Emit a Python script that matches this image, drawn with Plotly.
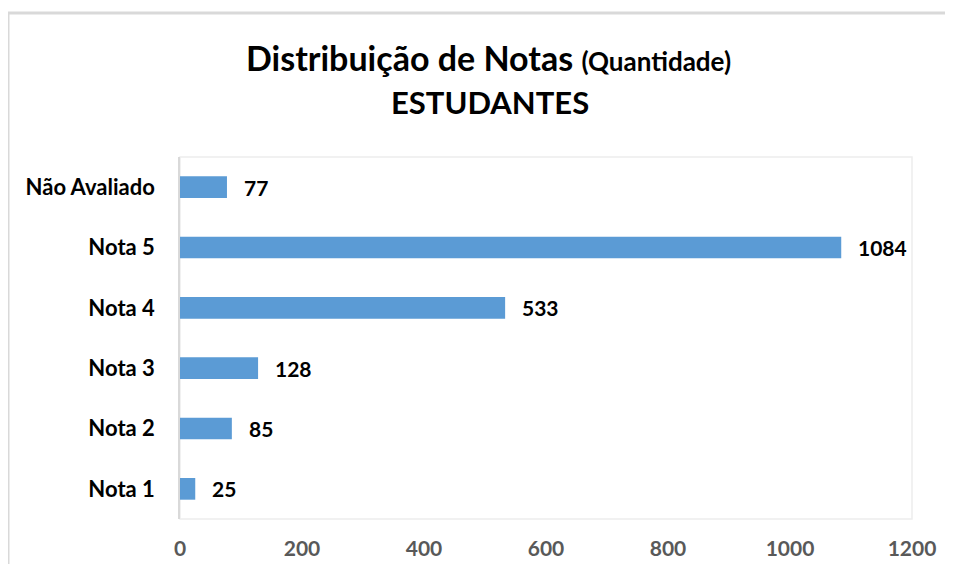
import plotly.graph_objects as go

categories = ["Nota 1", "Nota 2", "Nota 3", "Nota 4", "Nota 5", "Não Avaliado"]
values = [25, 85, 128, 533, 1084, 77]
x_ticks = [0, 200, 400, 600, 800, 1000, 1200]

# The page body adds an 8px margin, so the figure is drawn 8px in from the window edge.
OFF = 8
PAGE_W, PAGE_H = 953, 572
W, H = PAGE_W - 2 * OFF, PAGE_H - 2 * OFF
# plot area in page pixels: x 180..912, y 157..519
L, T = 180 - OFF, 157 - OFF
R = W - (912 - OFF)
B = H - (519 - OFF)
pw, ph = W - L - R, H - T - B

def px_x(p):  # page pixel -> paper x
    return (p - OFF - L) / pw

def px_y(p):  # page pixel -> paper y
    return (H - B - (p - OFF)) / ph

FONT = "Lato"
BAR = "#5B9BD5"

fig = go.Figure()
fig.add_trace(go.Bar(
    y=categories, x=values, orientation="h",
    marker=dict(color=BAR, line=dict(width=0)),
    hoverinfo="skip",
))

for c, v in zip(categories, values):
    fig.add_annotation(x=v, y=c, xref="x", yref="y", text=str(v),
                       showarrow=False, xanchor="left", yanchor="middle",
                       xshift=15, yshift=0,
                       font=dict(family=FONT, size=21, color="#000000", weight=700))

# title lines
fig.add_annotation(x=px_x(488), y=px_y(57), xref="paper", yref="paper",
                   text="Distribuição de Notas <span style='font-size:26px'>(Quantidade)</span>",
                   showarrow=False, xanchor="center", yanchor="middle",
                   font=dict(family=FONT, size=34, color="#000000", weight=700))
fig.add_annotation(x=px_x(490), y=px_y(102), xref="paper", yref="paper",
                   text="ESTUDANTES",
                   showarrow=False, xanchor="center", yanchor="middle",
                   font=dict(family=FONT, size=31, color="#000000", weight=700))

# plot area frame
fig.add_shape(type="rect", xref="paper", yref="paper", x0=0, x1=1, y0=0, y1=1,
              line=dict(color="#EDEDED", width=1.5), layer="below")
# outer chart frame
fig.add_shape(type="rect", xref="paper", yref="paper",
              x0=px_x(OFF), x1=px_x(990), y0=px_y(600), y1=px_y(13),
              line=dict(color="#D9D9D9", width=3), layer="below")

fig.update_layout(
    width=W, height=H,
    margin=dict(l=L, r=R, t=T, b=B, autoexpand=False),
    paper_bgcolor="white", plot_bgcolor="white",
    showlegend=False,
    bargap=0.64,
    xaxis=dict(
        range=[0, 1200], tickvals=x_ticks, ticktext=[str(t) for t in x_ticks],
        showgrid=False, zeroline=False, showline=False, automargin=False,
        tickfont=dict(family=FONT, size=21, color="#595959", weight=700),
        ticks="", ticklabelstandoff=15, fixedrange=True,
    ),
    yaxis=dict(
        categoryorder="array", categoryarray=categories,
        showgrid=False, zeroline=False, showline=True, linecolor="#D9D9D9", linewidth=1.5,
        automargin=False,
        tickfont=dict(family=FONT, size=22, color="#000000", weight=700),
        ticks="", ticklabelstandoff=19, fixedrange=True,
    ),
)

fig.write_html("out.html")
